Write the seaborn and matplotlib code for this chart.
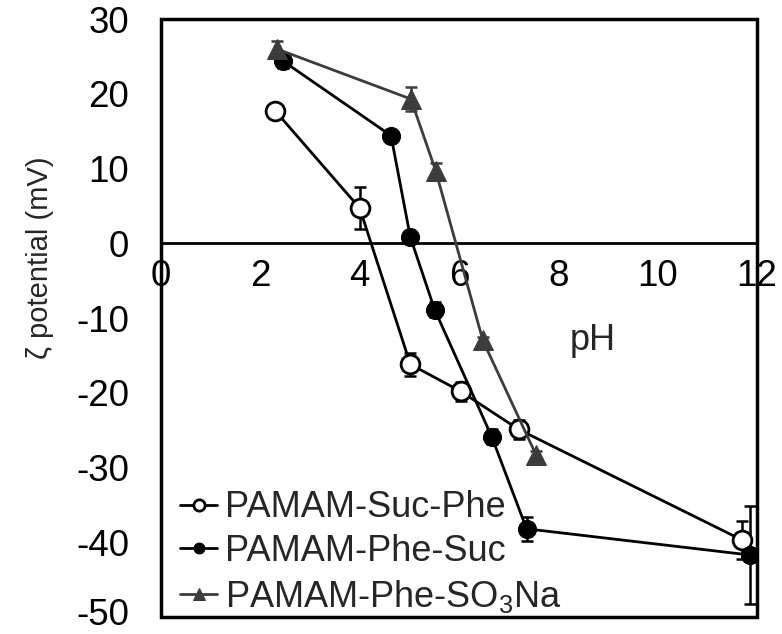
import matplotlib
matplotlib.use("Agg")
import matplotlib.pyplot as plt
import seaborn as sns
import pandas as pd
from matplotlib.patches import Rectangle
from matplotlib.transforms import ScaledTranslation

sns.set_theme(style="white")
plt.rcParams['font.family'] = ['Liberation Sans', 'DejaVu Sans']
plt.rcParams['mathtext.fontset'] = 'custom'
plt.rcParams['mathtext.rm'] = 'Liberation Sans'
plt.rcParams['axes.unicode_minus'] = False

# Data
suc_phe_x = [2.3, 4.0, 5.02, 6.03, 7.2, 11.7]
suc_phe_y = [17.7, 4.7, -16.2, -19.8, -24.9, -39.7]
suc_phe_err = [0.6, 2.8, 1.5, 1.3, 1.3, 2.5]

phe_suc_x = [2.45, 4.63, 5.02, 5.51, 6.66, 7.36, 11.85]
phe_suc_y = [24.4, 14.4, 0.8, -8.9, -25.9, -38.2, -41.7]
phe_suc_err = [1.0, 0.6, 0.6, 1.0, 1.0, 1.6, 6.5]

so3na_x = [2.33, 5.03, 5.53, 6.48, 7.55]
so3na_y = [26.0, 19.3, 9.7, -13.0, -28.3]
so3na_err = [1.0, 1.6, 1.0, 0.5, 0.5]

labels = ["PAMAM-Suc-Phe", "PAMAM-Phe-Suc", "PAMAM-Phe-SO$_3$Na"]
xticks = [0, 2, 4, 6, 8, 10, 12]
yticks = [-50, -40, -30, -20, -10, 0, 10, 20, 30]

FS = 26.5

fig = plt.figure(figsize=(7.82, 6.34), dpi=100)
ax = fig.add_axes([0.206, 0.0268, 0.762, 0.9432])

series = [
    (suc_phe_x, suc_phe_y, suc_phe_err, labels[0], dict(marker='o', color='black', markerfacecolor='white', markeredgecolor='black', markersize=13.5, markeredgewidth=2)),
    (phe_suc_x, phe_suc_y, phe_suc_err, labels[1], dict(marker='o', color='black', markerfacecolor='black', markeredgecolor='black', markersize=13)),
    (so3na_x, so3na_y, so3na_err, labels[2], dict(marker='^', color='#3c3c3c', markerfacecolor='#3c3c3c', markeredgecolor='#3c3c3c', markersize=14)),
]

for x, y, e, lab, kw in series:
    df = pd.DataFrame({"pH": x, "zeta": y})
    ax.errorbar(x, y, yerr=e, fmt='none', ecolor=kw['color'], elinewidth=1.8, capsize=4, capthick=1.8, zorder=2)
    sns.lineplot(data=df, x="pH", y="zeta", ax=ax, label=lab, linewidth=2.0, zorder=3, **kw)

ax.set_xlim(0, 12)
ax.set_ylim(-50, 30)
ax.set_xticks(xticks)
ax.set_yticks(yticks)
ax.set_yticklabels([str(v) for v in yticks])
ax.tick_params(axis='both', labelsize=FS, colors='black')
ax.tick_params(axis='y', direction='in', length=9, width=2, pad=23)
ax.tick_params(axis='x', direction='inout', length=16, width=2, pad=3)

for lbl in ax.get_yticklabels():
    if lbl.get_text() == '-50':
        lbl.set_transform(lbl.get_transform() + ScaledTranslation(0, 4 / 72, fig.dpi_scale_trans))

for s in ['top', 'right', 'left']:
    ax.spines[s].set_visible(False)
ax.spines['bottom'].set_position(('data', 0))
ax.spines['bottom'].set_linewidth(2)
ax.spines['bottom'].set_color('black')
ax.add_patch(Rectangle((0, 0), 1, 1, transform=ax.transAxes, fill=False, lw=2.5, edgecolor='black', clip_on=False, zorder=5))

ax.set_xlabel("pH", fontsize=26)
ax.xaxis.label.set_va('center')
ax.xaxis.set_label_coords(0.725, 0.463)
ax.set_ylabel("ζ potential (mV)", fontsize=21)
ax.yaxis.label.set_va('center')
ax.yaxis.set_label_coords(-0.203, 0.6)

leg = ax.legend(loc='lower left', bbox_to_anchor=(0.032, 0.004), frameon=False, fontsize=26,
                markerscale=0.6, handlelength=1.02, handletextpad=0.22, labelspacing=0.24,
                borderaxespad=0, borderpad=0)

fig.savefig("out.png", dpi=100)
